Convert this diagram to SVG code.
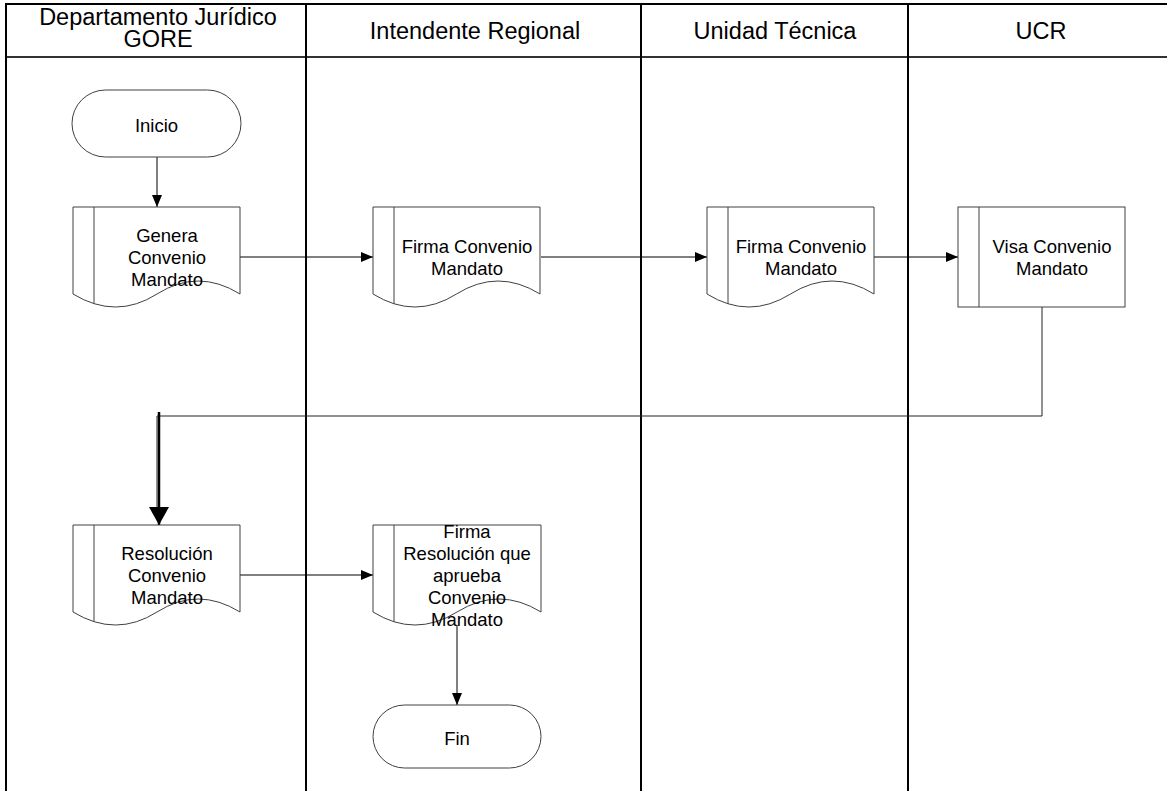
<svg xmlns="http://www.w3.org/2000/svg" width="1167" height="791" viewBox="0 0 1167 791">
  <style>
    .lane { stroke: #000; stroke-width: 2; fill: none; }
    .hdr { stroke: #333; stroke-width: 2; fill: none; }
    .shape { fill: #fff; stroke: #404040; stroke-width: 1; }
    .conn { fill: none; stroke: #000; stroke-width: 1; }
    .htxt { font-family: "Liberation Sans", Arial, sans-serif; font-size: 23.5px; fill: #000; text-anchor: middle; }
    .ntxt { font-family: "Liberation Sans", Arial, sans-serif; font-size: 18.5px; fill: #000; text-anchor: middle; }
  </style>
  <defs>
    <marker id="arr" viewBox="0 0 12 10" refX="12" refY="5" markerWidth="12" markerHeight="10" markerUnits="userSpaceOnUse" orient="auto">
      <path d="M0,0 L12,5 L0,10 z" fill="#000"/>
    </marker>
    <marker id="arrBig" viewBox="0 0 18 20" refX="18" refY="10" markerWidth="18" markerHeight="20" markerUnits="userSpaceOnUse" orient="auto">
      <path d="M0,0 L18,10 L0,20 z" fill="#000"/>
    </marker>
  </defs>

  <rect width="1167" height="791" fill="#fff"/>

  <!-- swimlanes -->
  <g id="lanes">
    <line class="lane" x1="5" y1="4" x2="1175" y2="4"/>
    <line class="hdr" x1="6" y1="57" x2="1175" y2="57"/>
    <line class="lane" x1="6" y1="4" x2="6" y2="791"/>
    <line class="lane" x1="306" y1="4" x2="306" y2="791"/>
    <line class="lane" x1="641" y1="4" x2="641" y2="791"/>
    <line class="lane" x1="908" y1="4" x2="908" y2="791"/>
    <text class="htxt" x="158" y="25">Departamento Jurídico</text>
    <text class="htxt" x="158" y="47">GORE</text>
    <text class="htxt" x="475" y="39">Intendente Regional</text>
    <text class="htxt" x="775" y="39">Unidad Técnica</text>
    <text class="htxt" x="1041" y="39">UCR</text>
  </g>

  <!-- connectors -->
  <g id="connectors">
    <line class="conn" x1="157" y1="157" x2="157" y2="207" marker-end="url(#arr)"/>
    <line class="conn" x1="240" y1="257" x2="373" y2="257" marker-end="url(#arr)"/>
    <line class="conn" x1="541" y1="257" x2="707" y2="257" marker-end="url(#arr)"/>
    <line class="conn" x1="874" y1="257" x2="958" y2="257" marker-end="url(#arr)"/>
    <path d="M1042,307 V416 H157 V510" fill="none" stroke="#222" stroke-width="1"/>
    <line x1="159" y1="412" x2="159" y2="525" stroke="#000" stroke-width="2.5" marker-end="url(#arrBig)"/>
    <line class="conn" x1="240" y1="575" x2="373" y2="575" marker-end="url(#arr)"/>
    <line class="conn" x1="457" y1="625" x2="457" y2="705" marker-end="url(#arr)"/>
  </g>

  <!-- Inicio -->
  <g id="inicio">
    <rect class="shape" x="72" y="90" width="169" height="67" rx="33.5" ry="33.5"/>
    <text class="ntxt" x="156.5" y="131.5">Inicio</text>
  </g>

  <!-- Genera Convenio Mandato -->
  <g id="genera">
    <path class="shape" d="M73,207 H240 V294 Q198,268 157,294 T73,294 Z"/>
    <line class="shape" x1="94" y1="207" x2="94" y2="304"/>
    <text class="ntxt" x="167" y="241.5">Genera</text>
    <text class="ntxt" x="167" y="263.5">Convenio</text>
    <text class="ntxt" x="167" y="285.5">Mandato</text>
  </g>

  <!-- Firma Convenio (Intendente) -->
  <g id="firma-intendente">
    <path class="shape" d="M373,207 H540 V294 Q498,268 456.5,294 T373,294 Z"/>
    <line class="shape" x1="394" y1="207" x2="394" y2="304"/>
    <text class="ntxt" x="467" y="252.5">Firma Convenio</text>
    <text class="ntxt" x="467" y="274.5">Mandato</text>
  </g>

  <!-- Firma Convenio (Unidad Técnica) -->
  <g id="firma-unidad">
    <path class="shape" d="M707,207 H874 V294 Q832,268 790.5,294 T707,294 Z"/>
    <line class="shape" x1="728" y1="207" x2="728" y2="304"/>
    <text class="ntxt" x="801" y="252.5">Firma Convenio</text>
    <text class="ntxt" x="801" y="274.5">Mandato</text>
  </g>

  <!-- Visa Convenio Mandato -->
  <g id="visa">
    <rect class="shape" x="958" y="207" width="167" height="100"/>
    <line class="shape" x1="979" y1="207" x2="979" y2="307"/>
    <text class="ntxt" x="1052" y="252.5">Visa Convenio</text>
    <text class="ntxt" x="1052" y="274.5">Mandato</text>
  </g>

  <!-- Resolución Convenio Mandato -->
  <g id="resolucion">
    <path class="shape" d="M73,525 H240 V612 Q198,586 157,612 T73,612 Z"/>
    <line class="shape" x1="94" y1="525" x2="94" y2="622"/>
    <text class="ntxt" x="167" y="559.5">Resolución</text>
    <text class="ntxt" x="167" y="581.5">Convenio</text>
    <text class="ntxt" x="167" y="603.5">Mandato</text>
  </g>

  <!-- Firma Resolución que aprueba Convenio Mandato -->
  <g id="firma-resolucion">
    <path class="shape" d="M373,525 H541 V612 Q499,586 457,612 T373,612 Z"/>
    <line class="shape" x1="394" y1="525" x2="394" y2="622"/>
    <text class="ntxt" x="467" y="537.5">Firma</text>
    <text class="ntxt" x="467" y="559.5">Resolución que</text>
    <text class="ntxt" x="467" y="581.5">aprueba</text>
    <text class="ntxt" x="467" y="603.5">Convenio</text>
    <text class="ntxt" x="467" y="625.5">Mandato</text>
  </g>

  <!-- Fin -->
  <g id="fin">
    <rect class="shape" x="373" y="705" width="168" height="63" rx="31.5" ry="31.5"/>
    <text class="ntxt" x="457" y="745">Fin</text>
  </g>
</svg>
